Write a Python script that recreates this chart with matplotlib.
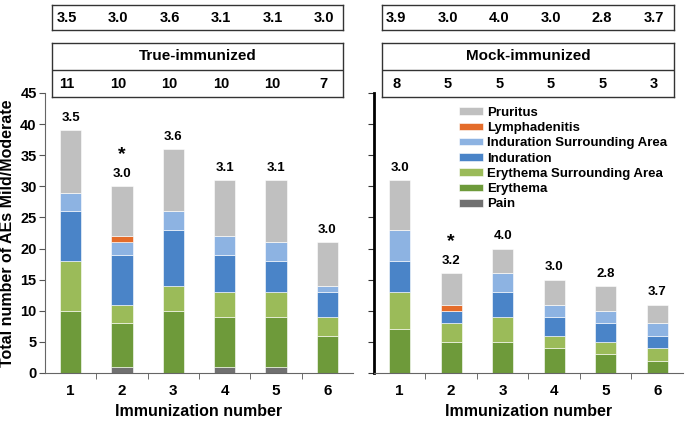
import matplotlib
matplotlib.use('Agg')
import matplotlib.pyplot as plt
import numpy as np

plt.rcParams['font.family'] = ['Liberation Sans', 'DejaVu Sans']
plt.rcParams['font.weight'] = 'bold'

immunization = [1, 2, 3, 4, 5, 6]
categories = ['Pain', 'Erythema', 'Erythema Surrounding Area', 'Induration',
              'Induration Surrounding Area', 'Lymphadenitis', 'Pruritus']
colors = ['#707070', '#6E9A3A', '#9BBB59', '#4A84C8', '#8DB3E2', '#E46C2A', '#C0C0C0']

# true-immunized counts per category (rows follow categories)
true_counts = [
    [0, 1, 0, 1, 1, 0],
    [10, 7, 10, 8, 8, 6],
    [8, 3, 4, 4, 4, 3],
    [8, 8, 9, 6, 5, 4],
    [3, 2, 3, 3, 3, 1],
    [0, 1, 0, 0, 0, 0],
    [10, 8, 10, 9, 10, 7],
]
mock_counts = [
    [0, 0, 0, 0, 0, 0],
    [7, 5, 5, 4, 3, 2],
    [6, 3, 4, 2, 2, 2],
    [5, 2, 4, 3, 3, 2],
    [5, 0, 3, 2, 2, 2],
    [0, 1, 0, 0, 0, 0],
    [8, 5, 4, 4, 4, 3],
]
true_bar_labels = ['3.5', '3.0', '3.6', '3.1', '3.1', '3.0']
mock_bar_labels = ['3.0', '3.2', '4.0', '3.0', '2.8', '3.7']
true_top_box = ['3.5', '3.0', '3.6', '3.1', '3.1', '3.0']
mock_top_box = ['3.9', '3.0', '4.0', '3.0', '2.8', '3.7']
true_n = ['11', '10', '10', '10', '10', '7']
mock_n = ['8', '5', '5', '5', '5', '3']
star_at = 2

W, H = 685, 422
fig = plt.figure(figsize=(W/100, H/100), dpi=100)

def frac(x0, y0, x1, y1):
    return [x0/W, (H-y1)/H, (x1-x0)/W, (y1-y0)/H]

def draw_panel(ax, counts, bar_labels):
    x = np.array(immunization)
    bottom = np.zeros(len(x))
    handles = []
    for vals, c, name in zip(counts, colors, categories):
        vals = np.array(vals, dtype=float)
        b = ax.bar(x, vals, 0.41, bottom=bottom, color=c, edgecolor='white',
                   linewidth=0.4, label=name)
        handles.append(b)
        bottom += vals
    for xi, top, lab in zip(x, bottom, bar_labels):
        ax.annotate(lab, (xi, top), xytext=(0, 4.5), textcoords='offset points',
                    ha='center', va='bottom', fontsize=9.5, fontweight='bold')
        if xi == star_at:
            ax.annotate('*', (xi, top), xytext=(0, 17), textcoords='offset points',
                        ha='center', va='bottom', fontsize=14, fontweight='bold')
    ax.set_xlim(0.5, 6.5)
    ax.set_ylim(0, 45)
    ax.set_yticks(np.arange(0, 46, 5))
    ax.set_xticks(x)
    ax.set_xticks(np.arange(1.5, 6.5, 1), minor=True)
    ax.tick_params(axis='x', which='major', length=0, labelsize=11, pad=8)
    ax.tick_params(axis='x', which='minor', length=4, direction='out', color='#555555')
    ax.spines['top'].set_visible(False)
    ax.spines['right'].set_visible(False)
    ax.spines['bottom'].set_color('#666666')
    ax.set_xlabel('Immunization number', fontsize=11.5, fontweight='bold', labelpad=4)
    return handles

ax1 = fig.add_axes(frac(45, 93, 353, 373))
handles = draw_panel(ax1, true_counts, true_bar_labels)
ax1.spines['left'].set_color('#666666')
ax1.tick_params(axis='y', length=4, direction='out', labelsize=10.5, color='#555555', pad=2)
ax1.set_ylabel('Total number of AEs Mild/Moderate', fontsize=11.5, fontweight='bold', labelpad=4)

ax2 = fig.add_axes(frac(374, 93, 683, 373))
draw_panel(ax2, mock_counts, mock_bar_labels)
ax2.spines['left'].set_linewidth(2)
ax2.spines['left'].set_color('black')
ax2.tick_params(axis='y', length=4, direction='out', labelleft=False, color='#333333')

ax2.legend(handles[::-1], categories[::-1], loc='upper left', bbox_to_anchor=(0.259, 0.97),
           frameon=False, handlelength=1.8, handleheight=0.5,
           labelspacing=0.25, handletextpad=0.3, borderaxespad=0,
           prop={'weight': 'bold', 'size': 9.5})

def draw_boxes(x0, x1, xlim, top_vals, group, n_vals):
    b1 = fig.add_axes(frac(x0, 5, x1, 30))
    b1.set_xlim(*xlim)
    b1.set_ylim(0, 1)
    b1.set_xticks([])
    b1.set_yticks([])
    for i, v in zip(immunization, top_vals):
        b1.text(i - 0.07, 0.5, v, ha='center', va='center', fontsize=10.5, fontweight='bold')
    b2 = fig.add_axes(frac(x0, 43, x1, 97))
    b2.set_xlim(*xlim)
    b2.set_ylim(0, 2)
    b2.set_xticks([])
    b2.set_yticks([])
    b2.axhline(1, color='#333333', linewidth=1)
    b2.text(np.mean(xlim), 1.5, group, ha='center', va='center', fontsize=11, fontweight='bold')
    for i, v in zip(immunization, n_vals):
        b2.text(i - 0.07, 0.5, v, ha='center', va='center', fontsize=10.5, fontweight='bold')
    for b in (b1, b2):
        for s in b.spines.values():
            s.set_color('#333333')
            s.set_linewidth(1)

draw_boxes(52, 343, (0.636, 6.306), true_top_box, 'True-immunized', true_n)
draw_boxes(382, 674, (0.655, 6.325), mock_top_box, 'Mock-immunized', mock_n)

fig.savefig('out.png', dpi=100)
